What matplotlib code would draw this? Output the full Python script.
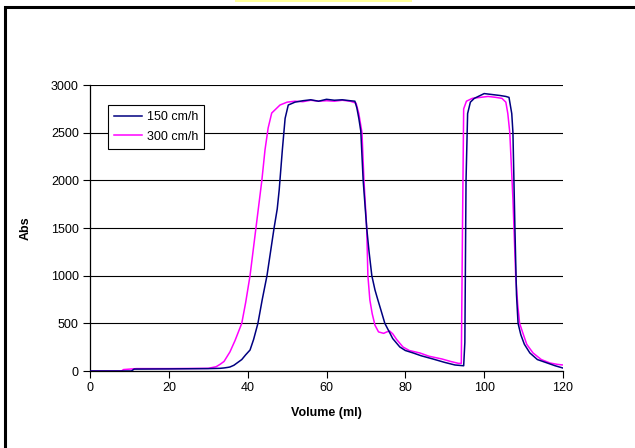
import matplotlib
matplotlib.use("Agg")
import matplotlib.pyplot as plt
from matplotlib.patches import Rectangle

# ---- data ----
vol_150 = [0, 10.5, 11.2, 20, 30, 33, 34, 35, 35.5, 36.5, 37.5, 38.5, 39.5, 40.6, 41.5,
           42.6, 43.7, 44.9, 45.8, 46.7, 47.5, 48.0, 48.8, 49.5, 50.3,
           52, 54, 56, 58, 60, 62, 64, 66, 67.2, 67.7, 68.2, 68.7, 69.3, 70.2, 70.8,
           71.5, 72.3, 73.0, 73.8, 74.8, 75.8, 76.8, 78.6, 80, 82, 84, 87, 90, 92.6, 94.8,
           95.1, 95.4, 95.8, 96.5, 97.5, 99, 100, 102, 104, 105.5, 106.3, 107.0, 107.3,
           107.8, 108.2, 108.6, 109.3, 110.2, 111.6, 113.5, 116, 118, 120]
abs_150 = [0, 0, 20, 22, 25, 28, 32, 38, 42, 60, 90, 120, 170, 220, 330,
           500, 750, 1000, 1250, 1500, 1700, 1900, 2320, 2650, 2790,
           2820, 2835, 2845, 2830, 2850, 2840, 2845, 2835, 2830, 2760, 2650, 2517, 2000, 1500, 1250,
           1000, 850, 750, 640, 500, 420, 340, 252, 215, 189, 160, 126, 90, 63, 55,
           300, 2000, 2700, 2820, 2860, 2890, 2910, 2900, 2890, 2880, 2870, 2700, 2500,
           1500, 800, 500, 380, 280, 189, 120, 84, 55, 31]

vol_300 = [0, 8, 8.5, 11.8, 20, 30, 32, 33, 34, 35.5, 36.8, 38.5, 39.5, 40.6, 42.1, 43.6,
           44.4, 45.2, 46.1, 48.2, 50, 52, 54, 56, 58, 60, 62, 64, 66, 67.5, 68.2, 69.0,
           69.5, 70.2, 70.5, 71.0, 71.6, 72.3, 73.2, 74.5, 75.3, 76.0, 76.8, 77.8, 79.4,
           81, 83.7, 86, 89.3, 91.5, 93.5, 94.2, 94.5, 94.8, 95.5, 97, 99, 101, 103, 104.5,
           105.5, 106.0, 106.5, 107.3, 108.0, 108.5, 109.0, 109.8, 110.8, 112.4, 114.5,
           116.7, 118.5, 120]
abs_300 = [0, 0, 15, 25, 25, 28, 45, 70, 100, 200, 320, 500, 720, 1000, 1500, 2000,
           2320, 2550, 2706, 2790, 2820, 2830, 2825, 2840, 2830, 2835, 2830, 2840, 2830, 2810, 2700, 2500,
           2000, 1500, 1000, 745, 600, 480, 410, 395, 410, 420, 390, 330, 252,
           215, 189, 155, 126, 100, 80, 80, 1500, 2750, 2830, 2860, 2870, 2880, 2870, 2860,
           2820, 2700, 2500, 1800, 1000, 700, 500, 400, 280, 189, 120,
           84, 70, 63]

labels = ["150 cm/h", "300 cm/h"]
colors = ["#000080", "#FF00FF"]
xticks = [0, 20, 40, 60, 80, 100, 120]
yticks = [0, 500, 1000, 1500, 2000, 2500, 3000]

plt.rcParams["font.family"] = ["Liberation Sans", "DejaVu Sans"]

W, H = 635, 448
fig = plt.figure(figsize=(W / 100, H / 100), dpi=100)
fig.patch.set_facecolor("white")

# outer border (cut off at right/bottom in reference) and yellow strip
fig.patches.append(Rectangle((5 / W, -0.1), 2.0, (H - 7) / H + 0.1, transform=fig.transFigure,
                             fill=False, edgecolor="black", linewidth=2.2))
fig.patches.append(Rectangle((235 / W, (H - 2) / H), 177 / W, 2 / H, transform=fig.transFigure,
                             facecolor="#FFFF99", edgecolor="none"))

ax = fig.add_axes([90 / W, (H - 371) / H, 473 / W, 286 / H])
ax.plot(vol_150, abs_150, color=colors[0], linewidth=1.1, label=labels[0], zorder=3)
ax.plot(vol_300, abs_300, color=colors[1], linewidth=1.1, label=labels[1], zorder=2)

ax.set_xlim(0, 120)
ax.set_ylim(0, 3000)
ax.set_xticks(xticks)
ax.set_yticks(yticks)
ax.yaxis.grid(True, color="black", linewidth=0.8)
ax.set_axisbelow(True)
for s in ["top", "right"]:
    ax.spines[s].set_visible(False)
for s in ["left", "bottom"]:
    ax.spines[s].set_linewidth(0.9)
ax.tick_params(direction="out", length=5, width=0.8, labelsize=9, pad=3)

ax.set_xlabel("Volume (ml)", fontsize=9, fontweight="bold", labelpad=9)
ax.set_ylabel("Abs", fontsize=9, fontweight="bold", labelpad=14)

leg = ax.legend(loc="upper left", bbox_to_anchor=(0.038, 0.93), fontsize=9,
                frameon=True, fancybox=False, edgecolor="black", framealpha=1,
                handlelength=2.2, handletextpad=0.4, borderpad=0.5, labelspacing=0.6,
                borderaxespad=0)
leg.get_frame().set_linewidth(0.8)

fig.savefig("out.png", dpi=100)
